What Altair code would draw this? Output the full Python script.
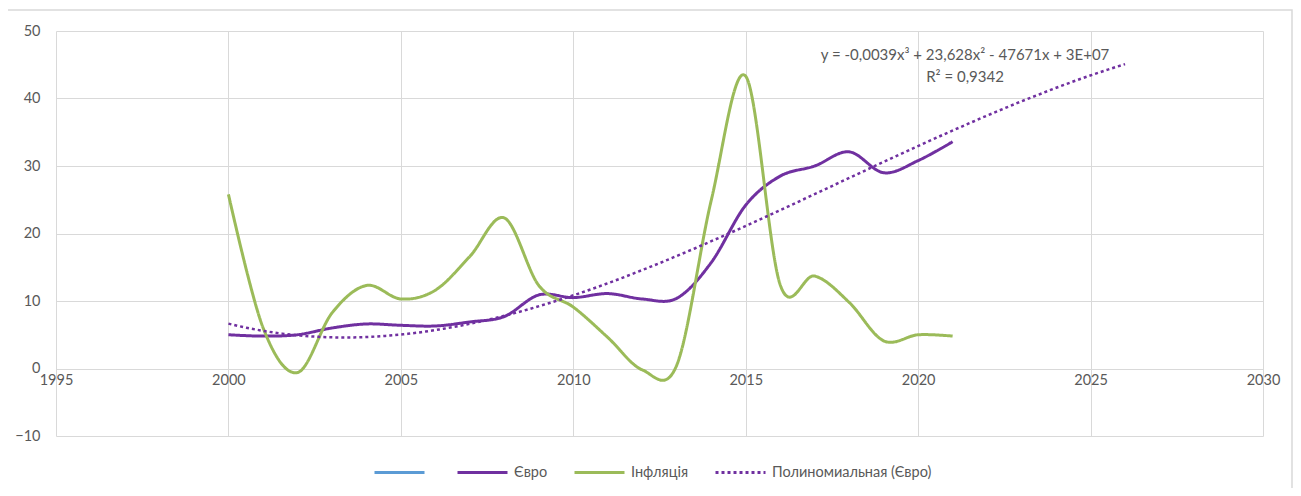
import altair as alt
import pandas as pd

years = list(range(2000, 2022))
euro = [5.0, 4.8, 5.0, 6.0, 6.6, 6.4, 6.3, 6.9, 7.7, 10.9, 10.5, 11.1, 10.3, 10.4,
        15.7, 24.2, 28.5, 30.0, 32.1, 29.0, 30.8, 33.6]
inflation = [25.8, 6.1, -0.6, 8.2, 12.3, 10.3, 11.6, 16.6, 22.3, 12.3, 9.1, 4.6, -0.2, 0.5,
             24.9, 43.3, 12.4, 13.7, 9.8, 4.1, 5.0, 4.8]
series_names = [" ", "Євро", "Інфляція", "Полиномиальная (Євро)"]
series_colors = ["#5B9BD5", "#7030A0", "#9BBB59", "#7030A0"]
x_ticks = [1995, 2000, 2005, 2010, 2015, 2020, 2025, 2030]
y_ticks = [-10, 0, 10, 20, 30, 40, 50]
eq_text = "y = -0,0039x³ + 23,628x² - 47671x + 3E+07"
r2_text = "R² = 0,9342"

df = pd.DataFrame(
    [{"series": "Євро", "year": y, "value": v} for y, v in zip(years, euro)]
    + [{"series": "Інфляція", "year": y, "value": v} for y, v in zip(years, inflation)]
)

FONT = "Lato"
GRID = "#D9D9D9"
TXT = "#595959"

legend = alt.Legend(
    title=None, orient="none", direction="horizontal", legendX=317, legendY=415,
    symbolType="stroke", symbolSize=2500, symbolStrokeWidth=3,
    labelFont=FONT, labelFontSize=14.5, labelColor=TXT, labelOffset=5,
    columnPadding=20,
)

xscale = alt.Scale(domain=[1995, 2030], nice=False, zero=False)
yscale = alt.Scale(domain=[-10, 50], nice=False)
color = alt.Color("series:N", scale=alt.Scale(domain=series_names, range=series_colors), legend=legend)
dash = alt.StrokeDash("series:N", scale=alt.Scale(domain=series_names,
                      range=[[1, 0], [1, 0], [1, 0], [3, 3]]), legend=legend)

xaxis = alt.Axis(values=x_ticks, format="d", grid=True, gridColor=GRID, gridWidth=1,
                 domain=False, ticks=False, tickSize=0, labelPadding=5, offset=-67.5,
                 labelFlush=False, labelAlign="center",
                 labelFont=FONT, labelFontSize=14.5, labelColor=TXT, title=None)
yaxis = alt.Axis(values=y_ticks, grid=True, gridColor=GRID, gridWidth=1, domain=False,
                 ticks=False, tickSize=0, labelPadding=16, labelFont=FONT, labelFlush=False,
                 labelFontSize=14.5, labelColor=TXT, title=None)

base = alt.Chart(df)

frame = alt.Chart(pd.DataFrame({"a": [0]})).mark_rect(
    filled=False, stroke=GRID, strokeWidth=1.5
).encode(x=alt.value(-51), x2=alt.value(1236), y=alt.value(-21), y2=alt.value(480))

lines = base.mark_line(interpolate="cardinal", tension=0, strokeWidth=3).encode(
    x=alt.X("year:Q", scale=xscale, axis=xaxis),
    y=alt.Y("value:Q", scale=yscale, axis=yaxis),
    color=color,
    strokeDash=dash,
)

trend = base.transform_filter(alt.datum.series == "Євро").transform_regression(
    "year", "value", method="poly", order=3, extent=[2000, 2026]
).transform_calculate(series="'Полиномиальная (Євро)'").mark_line(strokeWidth=2.5).encode(
    x=alt.X("year:Q", scale=xscale),
    y=alt.Y("value:Q", scale=yscale),
    color=color,
    strokeDash=dash,
)

eq = alt.Chart(pd.DataFrame({"a": [0]})).mark_text(
    font=FONT, fontSize=15, color=TXT, align="center", baseline="middle"
).encode(x=alt.datum(2021.36), y=alt.datum(46.4), text=alt.value(eq_text))
r2 = alt.Chart(pd.DataFrame({"a": [0]})).mark_text(
    font=FONT, fontSize=15, color=TXT, align="center", baseline="middle"
).encode(x=alt.datum(2021.36), y=alt.datum(43.2), text=alt.value(r2_text))

chart = alt.layer(frame, lines, trend, eq, r2).properties(
    width=1207, height=405,
    padding={"left": 48, "top": 23, "right": 30, "bottom": 52},
    autosize=alt.AutoSizeParams(type="none"),
).configure_view(stroke=None)

chart.save("out.html", embed_options={"renderer": "svg", "actions": False})
